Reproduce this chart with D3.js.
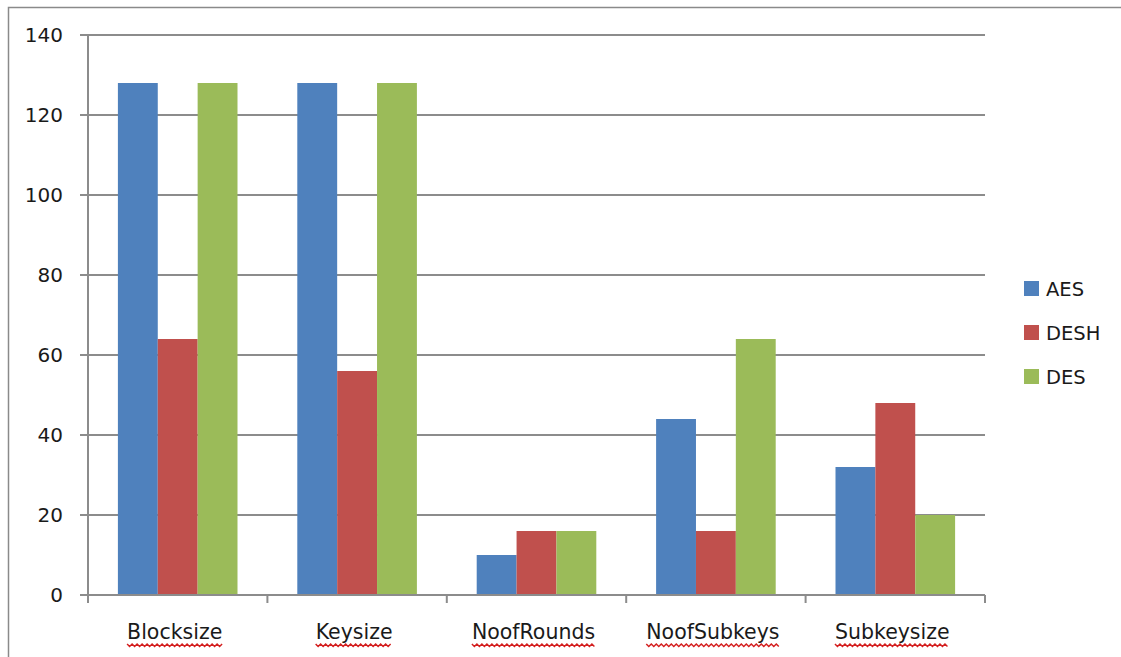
<!DOCTYPE html>
<html>
<head>
<meta charset="utf-8">
<script src="https://cdn.jsdelivr.net/npm/d3@7"></script>
<style>
  html, body { margin: 0; padding: 0; background: #fff; }
  svg { display: block; }
  text { font-family: "DejaVu Sans", sans-serif; fill: #1a1a1a; }
</style>
</head>
<body>
<svg id="chart" width="1121" height="657"></svg>
<script>
const categories = ["Blocksize", "Keysize", "NoofRounds", "NoofSubkeys", "Subkeysize"];
const seriesNames = ["AES", "DESH", "DES"];
const aesValues  = [128, 128, 10, 44, 32];
const deshValues = [64, 56, 16, 16, 48];
const desValues  = [128, 128, 16, 64, 20];
const yTicks = [0, 20, 40, 60, 80, 100, 120, 140];
const colors = ["#4F81BD", "#C0504D", "#9BBB59"];

(function () {
const seriesValues = [aesValues, deshValues, desValues];
const svg = d3.select("#chart");

// outer frame
svg.append("rect")
  .attr("x", 8.5).attr("y", 7.5).attr("width", 1140).attr("height", 700)
  .attr("fill", "none").attr("stroke", "#8a8a8a").attr("stroke-width", 1.5);

const pL = 88, pR = 985, pT = 35, pB = 595;

const x = d3.scaleBand().domain(categories).range([pL, pR]).paddingInner(0).paddingOuter(0);
const y = d3.scaleLinear().domain([0, 140]).range([pB, pT]);
const inner = d3.scaleBand().domain(seriesNames)
  .range([0, x.bandwidth()]).paddingInner(0).paddingOuter(0.75);

// gridlines
svg.append("g").selectAll("line").data(yTicks).join("line")
  .attr("x1", pL - 8).attr("x2", pR)
  .attr("y1", d => y(d)).attr("y2", d => y(d))
  .attr("stroke", "#8c8c8c").attr("stroke-width", 2);

// y axis line
svg.append("line")
  .attr("x1", pL).attr("x2", pL).attr("y1", pT).attr("y2", pB + 1)
  .attr("stroke", "#8c8c8c").attr("stroke-width", 2);

// y tick labels
svg.append("g").selectAll("text").data(yTicks).join("text")
  .attr("x", 63).attr("y", d => y(d) + 7)
  .attr("text-anchor", "end").attr("font-size", 20)
  .text(d => d);

// bars
const groups = svg.append("g").selectAll("g").data(seriesNames).join("g")
  .attr("fill", (d, i) => colors[i]);
groups.selectAll("rect")
  .data((s, si) => categories.map((c, ci) => ({ c, s, v: seriesValues[si][ci] })))
  .join("rect")
  .attr("x", d => x(d.c) + inner(d.s))
  .attr("width", inner.bandwidth())
  .attr("y", d => y(d.v))
  .attr("height", d => y(0) - y(d.v));

// baseline over bars
svg.append("line")
  .attr("x1", pL).attr("x2", pR).attr("y1", y(0)).attr("y2", y(0))
  .attr("stroke", "#8c8c8c").attr("stroke-width", 2);

// category ticks
const bounds = categories.map(c => x(c)).concat([pR]);
svg.append("g").selectAll("line").data(bounds).join("line")
  .attr("x1", d => d).attr("x2", d => d)
  .attr("y1", pB).attr("y2", pB + 8)
  .attr("stroke", "#8c8c8c").attr("stroke-width", 2);

// category labels with spell-check squiggles
const labels = svg.append("g").selectAll("g").data(categories).join("g");
labels.append("text")
  .attr("x", d => x(d) + x.bandwidth() / 2 - 3)
  .attr("y", 639)
  .attr("text-anchor", "middle").attr("font-size", 20.5)
  .text(d => d);
labels.each(function(d) {
  const t = d3.select(this).select("text").node();
  const bb = t.getBBox();
  const pts = [];
  const y0 = 644;
  for (let px = bb.x, k = 0; px <= bb.x + bb.width; px += 2.5, k++) {
    pts.push([px, y0 + (k % 2 ? 2.5 : 0)]);
  }
  d3.select(this).append("path")
    .attr("d", d3.line()(pts))
    .attr("fill", "none").attr("stroke", "#d42020").attr("stroke-width", 1.5);
});

// legend
const legend = svg.append("g").selectAll("g").data(seriesNames).join("g")
  .attr("transform", (d, i) => `translate(1024, ${288 + i * 44})`);
legend.append("rect")
  .attr("x", 0).attr("y", -7).attr("width", 15).attr("height", 15)
  .attr("fill", (d, i) => colors[i]);
legend.append("text")
  .attr("x", 22).attr("y", 8)
  .attr("font-size", 19.5)
  .text(d => d);
})();
</script>
</body>
</html>
